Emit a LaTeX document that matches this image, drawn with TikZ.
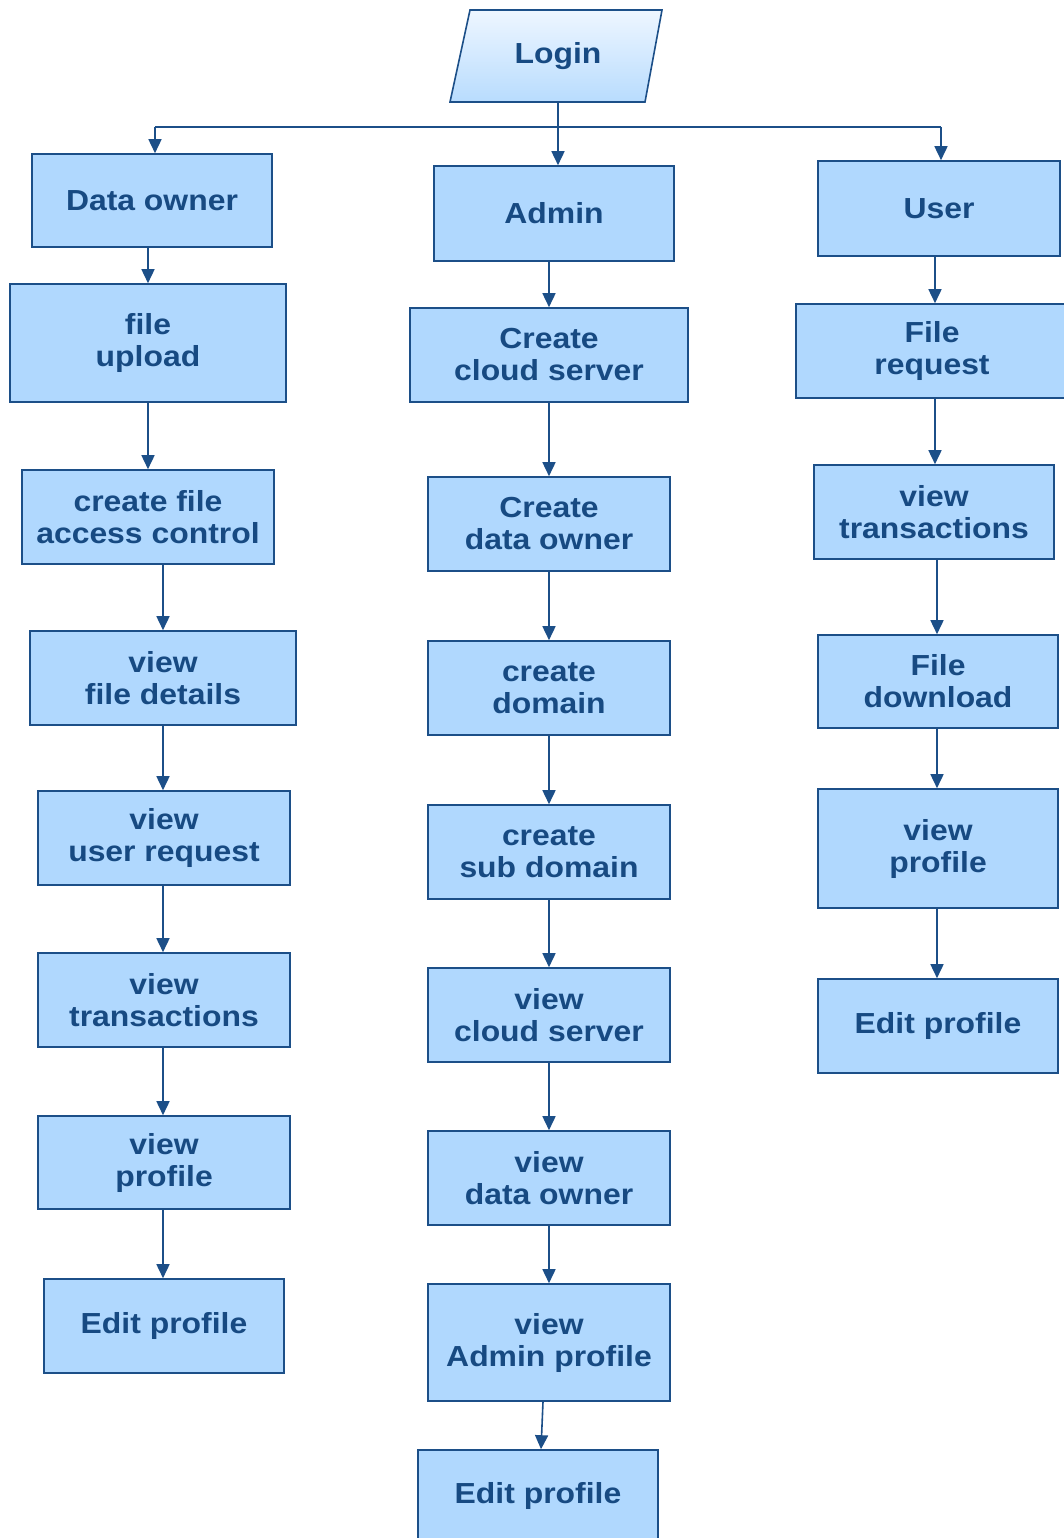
\documentclass[tikz,border=0pt]{standalone}
\usepackage{fontspec}
\setmainfont{Liberation Sans}[FakeStretch=1.1]
\usetikzlibrary{arrows.meta}
\definecolor{bordc}{HTML}{1C4F88}
\definecolor{fillc}{HTML}{B0D8FE}
\definecolor{textc}{HTML}{174A82}
\definecolor{lightc}{HTML}{EEF6FF}
\tikzset{
 box/.style={draw=bordc, fill=fillc, line width=1.6pt, text=textc, font=\fontsize{29}{32}\selectfont\bfseries, align=center, inner sep=0pt},
 conn/.style={draw=bordc, line width=1.6pt, -{Triangle[width=13pt,length=14pt]}},
 plain/.style={draw=bordc, line width=1.6pt}
}
\newcommand\mybox[6]{\node[box, minimum width={#4-#2}, minimum height={#5-#3}] (#1) at ({(#2+#4)/2},{(#3+#5)/2}) {#6};}
\begin{document}
\begin{tikzpicture}[x=1pt,y=-1pt]
\useasboundingbox (0,0) rectangle (1064,1538);
\fill[white] (0,0) rectangle (1064,1538);
% Login
\path[draw=bordc, line width=1.6pt, shading=axis, shading angle=135, top color=lightc, bottom color=fillc!90] (470,10) -- (662,10) -- (645,102) -- (450,102) -- cycle;
\node[text=textc, font=\fontsize{29}{32}\selectfont\bfseries, minimum width=195, minimum height=92, inner sep=0pt] (login) at (558,56) {Login};
% left column
\mybox{do}{32}{154}{272}{247}{Data owner}
\mybox{fu}{10}{284}{286}{402}{file\\upload}
\mybox{cf}{22}{470}{274}{564}{create file\\access control}
\mybox{vfd}{30}{631}{296}{725}{view\\file details}
\mybox{vur}{38}{791}{290}{885}{view\\user request}
\mybox{vtl}{38}{953}{290}{1047}{view\\transactions}
\mybox{vpl}{38}{1116}{290}{1209}{view\\profile}
\mybox{epl}{44}{1279}{284}{1373}{Edit profile}
% middle column
\mybox{adm}{434}{166}{674}{261}{Admin}
\mybox{ccs}{410}{308}{688}{402}{Create\\cloud server}
\mybox{cdo}{428}{477}{670}{571}{Create\\data owner}
\mybox{cdm}{428}{641}{670}{735}{create\\domain}
\mybox{csd}{428}{805}{670}{899}{create\\sub domain}
\mybox{vcs}{428}{968}{670}{1062}{view\\cloud server}
\mybox{vdo}{428}{1131}{670}{1225}{view\\data owner}
\mybox{vap}{428}{1284}{670}{1401}{view\\Admin profile}
\mybox{epm}{418}{1450}{658}{1542}{Edit profile}
% right column
\mybox{usr}{818}{161}{1060}{256}{User}
\mybox{fr}{796}{304}{1068}{398}{File\\request}
\mybox{vtr}{814}{465}{1054}{559}{view\\transactions}
\mybox{fd}{818}{635}{1058}{728}{File\\download}
\mybox{vpr}{818}{789}{1058}{908}{view\\profile}
\mybox{epr}{818}{979}{1058}{1073}{Edit profile}
% coordinates
\coordinate (hL) at (155,127);
\coordinate (hR) at (941,127);
\coordinate (cL1) at (148,0);
\coordinate (cL2) at (163,0);
\coordinate (cM) at (549,0);
\coordinate (cR1) at (935,0);
\coordinate (cR2) at (937,0);
\coordinate (mA) at (543,1401);
\coordinate (mB) at (541,1450);
% connectors from login
\draw[plain] (hL) -- (hR);
\draw[conn] (login.south) -- (adm.north -| login.south);
\draw[conn] (hL) -- (do.north -| hL);
\draw[conn] (hR) -- (usr.north -| hR);
% left
\draw[conn] (do.south -| cL1) -- (fu.north -| cL1);
\draw[conn] (fu.south -| cL1) -- (cf.north -| cL1);
\draw[conn] (cf.south -| cL2) -- (vfd.north -| cL2);
\draw[conn] (vfd.south -| cL2) -- (vur.north -| cL2);
\draw[conn] (vur.south -| cL2) -- (vtl.north -| cL2);
\draw[conn] (vtl.south -| cL2) -- (vpl.north -| cL2);
\draw[conn] (vpl.south -| cL2) -- (epl.north -| cL2);
% middle
\draw[conn] (adm.south -| cM) -- (ccs.north -| cM);
\draw[conn] (ccs.south -| cM) -- (cdo.north -| cM);
\draw[conn] (cdo.south -| cM) -- (cdm.north -| cM);
\draw[conn] (cdm.south -| cM) -- (csd.north -| cM);
\draw[conn] (csd.south -| cM) -- (vcs.north -| cM);
\draw[conn] (vcs.south -| cM) -- (vdo.north -| cM);
\draw[conn] (vdo.south -| cM) -- (vap.north -| cM);
\draw[conn] (vap.south -| mA) -- (epm.north -| mB);
% right
\draw[conn] (usr.south -| cR1) -- (fr.north -| cR1);
\draw[conn] (fr.south -| cR1) -- (vtr.north -| cR1);
\draw[conn] (vtr.south -| cR2) -- (fd.north -| cR2);
\draw[conn] (fd.south -| cR2) -- (vpr.north -| cR2);
\draw[conn] (vpr.south -| cR2) -- (epr.north -| cR2);
\end{tikzpicture}
\end{document}
